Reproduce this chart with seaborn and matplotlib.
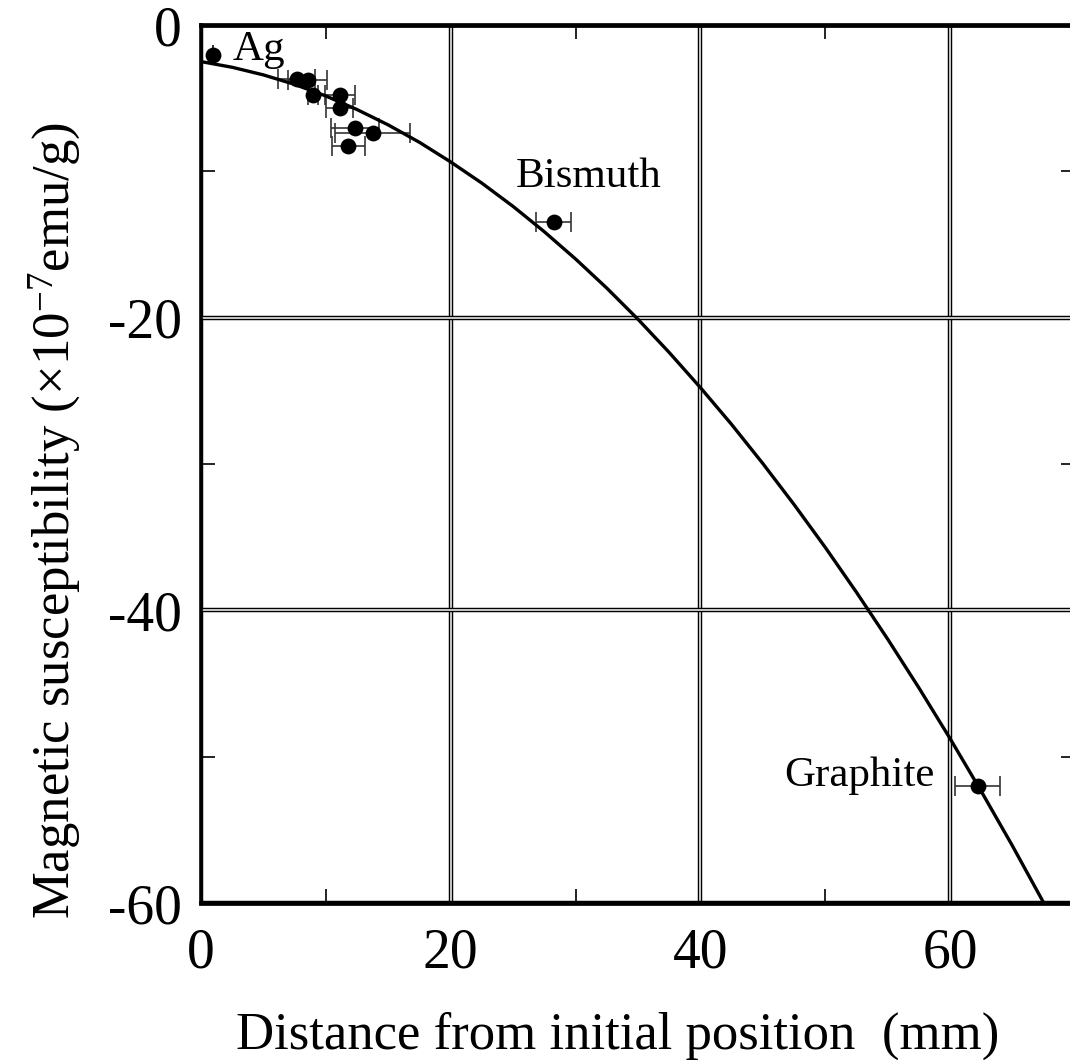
import matplotlib
matplotlib.use('Agg')
import matplotlib.pyplot as plt
import matplotlib.patheffects as pe
import seaborn as sns
import pandas as pd

# Measured samples (distance in mm, susceptibility in 1e-7 emu/g)
sample_x = [0.94, 7.67, 8.53, 9.0, 11.15, 11.1, 12.35, 13.77, 11.81, 28.26, 62.2]
sample_y = [-2.05, -3.69, -3.75, -4.75, -4.78, -5.64, -7.05, -7.39, -8.3, -13.49, -52.03]
sample_xerr = [0.0, 1.47, 1.55, 0.4, 1.2, 1.07, 1.9, 3.0, 1.34, 1.4, 1.8]

# Calibration curve
curve_x = [0, 2.5, 5, 7.5, 10, 12.5, 15, 17.5, 20, 22.5, 25, 27.5, 30, 32.5,
           35, 37.5, 40, 42.5, 45, 47.5, 50, 52.5, 55, 57.5, 60, 62.5, 65, 67.5]
curve_y = [-2.5, -2.89, -3.41, -4.06, -4.85, -5.78, -6.83, -8.02, -9.36, -10.81,
           -12.4, -14.13, -15.99, -17.98, -20.11, -22.38, -24.78, -27.3,
           -29.97, -32.77, -35.7, -38.77, -41.97, -45.3, -48.77, -52.38,
           -56.11, -60.0]

labels = ['Ag', 'Bismuth', 'Graphite']
label_x = [2.5, 25.2, 46.7]
label_y = [-2.39, -11.1, -52.0]

x_ticks = [0, 20, 40, 60]
y_ticks = [0, -20, -40, -60]

sns.set_style('ticks')
plt.rcParams['font.family'] = ['Liberation Serif', 'DejaVu Serif']
plt.rcParams['mathtext.fontset'] = 'custom'
plt.rcParams['mathtext.rm'] = 'Liberation Serif'
plt.rcParams['mathtext.it'] = 'Liberation Serif:italic'
plt.rcParams['axes.unicode_minus'] = False
for key in ['text.color', 'axes.labelcolor', 'xtick.color', 'ytick.color']:
    plt.rcParams[key] = 'black'

fig = plt.figure(figsize=(10.7, 10.6), dpi=100)
ax = fig.add_axes([201 / 1070, 157 / 1060, 874 / 1070, 878 / 1060])

df_curve = pd.DataFrame({'x': curve_x, 'y': curve_y})
df_pts = pd.DataFrame({'x': sample_x, 'y': sample_y, 'xerr': sample_xerr})

ax.errorbar(df_pts['x'], df_pts['y'], xerr=df_pts['xerr'], fmt='none',
            ecolor='#333333', elinewidth=1.2, capsize=7, capthick=1.2, zorder=3)
sns.lineplot(data=df_curve, x='x', y='y', sort=False, estimator=None,
             color='black', linewidth=2.4, ax=ax, zorder=4)
sns.scatterplot(data=df_pts, x='x', y='y', s=130, color='black',
                edgecolor='black', linewidth=0, ax=ax, zorder=5)

for txt, tx, ty in zip(labels, label_x, label_y):
    ax.text(tx, ty, txt, fontsize=31, ha='left', va='baseline', color='black')

ax.set_xlim(0, 70)
ax.set_ylim(-60, 0)
ax.set_xticks(x_ticks)
ax.set_yticks(y_ticks)
ax.set_xticks([10, 30, 50], minor=True)
ax.set_yticks([-10, -30, -50], minor=True)
ax.tick_params(which='both', direction='in', top=True, right=True,
               labelsize=40, width=1.2, color='black', labelcolor='black')
ax.tick_params(which='major', length=0, pad=14)
ax.tick_params(axis='x', which='major', pad=18)
ax.tick_params(which='minor', length=10)

ax.grid(which='major', color='#d8d8d8', linewidth=1.3,
        path_effects=[pe.withStroke(linewidth=3.2, foreground='black')])
ax.set_axisbelow(True)

for side in ['top', 'bottom', 'left']:
    ax.spines[side].set_linewidth(3.4)
    ax.spines[side].set_color('black')
ax.spines['left'].set_linewidth(2.6)
ax.spines['right'].set_visible(False)

ax.set_xlabel('Distance from initial position  (mm)', fontsize=38, color='black')
ax.set_ylabel('Magnetic susceptibility (\u00d710$^{-7}$emu/g)', fontsize=38, color='black')
ax.xaxis.set_label_coords(0.477, -0.124)
ax.yaxis.set_label_coords(-0.135, 0.436)

fig.savefig('out.png', dpi=100)
